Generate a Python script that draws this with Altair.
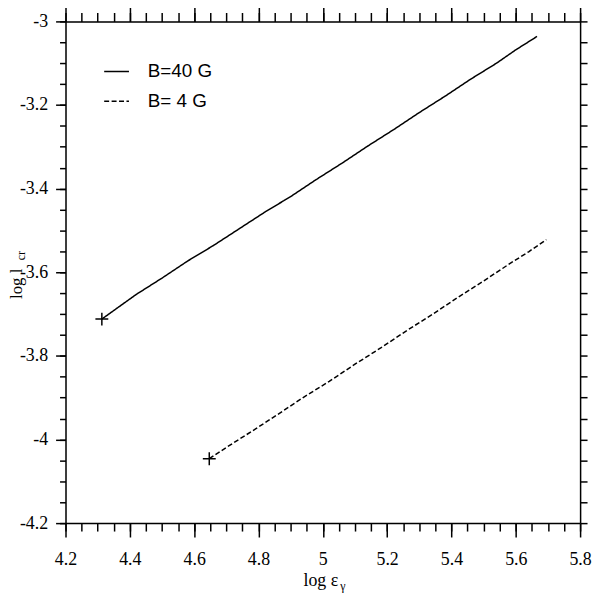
import altair as alt
import pandas as pd

# ---- data ----
series_names = ["B=40 G", "B= 4 G"]

x40 = [4.313, 4.36, 4.42, 4.50, 4.58, 4.66, 4.74, 4.82, 4.90, 4.98, 5.06,
       5.14, 5.22, 5.30, 5.38, 5.46, 5.54, 5.60, 5.666]
y40 = [-3.712, -3.686, -3.653, -3.614, -3.573, -3.536, -3.496, -3.456, -3.419,
       -3.378, -3.339, -3.298, -3.259, -3.218, -3.179, -3.138, -3.100, -3.068, -3.036]

x4 = [4.647, 4.70, 4.78, 4.86, 4.94, 5.02, 5.10, 5.18, 5.26, 5.34, 5.42,
      5.50, 5.58, 5.64, 5.695]
y4 = [-4.046, -4.019, -3.980, -3.940, -3.899, -3.861, -3.820, -3.781, -3.740,
      -3.701, -3.660, -3.621, -3.580, -3.551, -3.522]

x_major = [4.2, 4.4, 4.6, 4.8, 5.0, 5.2, 5.4, 5.6, 5.8]
y_major = [-4.2, -4.0, -3.8, -3.6, -3.4, -3.2, -3.0]
x_minor = [round(4.2 + 0.05 * i, 2) for i in range(33)]
y_minor = [round(-4.2 + 0.05 * i, 2) for i in range(25)]

# ---- tables ----
rows = []
for i, (a, b) in enumerate(zip(x40, y40)):
    rows.append({"x": a, "y": b, "series": series_names[0], "order": i})
for i, (a, b) in enumerate(zip(x4, y4)):
    rows.append({"x": a, "y": b, "series": series_names[1], "order": i})
df = pd.DataFrame(rows)
starts = pd.DataFrame({"x": [x40[0], x4[0]], "y": [y40[0], y4[0]]})
one = pd.DataFrame({"a": [0]})

W, H = 519, 506
SERIF = "Liberation Serif"
SANS = "Liberation Sans"

xs = alt.Scale(domain=[4.2, 5.8], nice=False, zero=False)
ys = alt.Scale(domain=[-4.2, -3.0], nice=False, zero=False)


def ax(orient, values, tick, labels=False, domain=False, pad=8):
    return alt.Axis(
        orient=orient, values=values, tickSize=tick, tickWidth=1.5,
        tickColor="black", labels=labels, domain=domain, domainColor="black",
        domainWidth=1.5, grid=False, title=None, labelFont=SERIF,
        labelFontSize=18, labelColor="black", labelPadding=pad,
        labelExpr="'' + datum.value", labelFlush=False, labelOverlap=False,
        labelBound=False,
    )


lines = alt.Chart(df).mark_line(strokeWidth=1.5, color="black").encode(
    x=alt.X("x:Q", scale=xs, axis=ax("bottom", x_major, 14, True, True, 14)),
    y=alt.Y("y:Q", scale=ys, axis=ax("left", y_major, 10, True, True, 8)),
    strokeDash=alt.StrokeDash(
        "series:N",
        scale=alt.Scale(domain=series_names, range=[[1, 0], [5, 2.5]]),
        legend=alt.Legend(
            title=None, orient="none", legendX=38, legendY=37,
            symbolType="stroke", symbolSize=625, symbolStrokeWidth=1.5,
            symbolStrokeColor="black", labelFont=SANS, labelFontSize=19,
            labelColor="black", labelOffset=18, rowPadding=6, padding=0,
        ),
    ),
    order="order:Q",
)

plus = alt.Chart(starts).mark_point(
    shape="M-1,0L1,0M0,-1L0,1", size=169, filled=False, stroke="black",
    strokeWidth=1.5, opacity=1,
).encode(
    x=alt.X("x:Q", scale=xs, axis=ax("bottom", x_minor, 8)),
    y=alt.Y("y:Q", scale=ys, axis=ax("left", y_minor, 6)),
)

frame_a = alt.Chart(starts).mark_point(opacity=0).encode(
    x=alt.X("x:Q", scale=xs, axis=ax("top", x_major, 15, False, True)),
    y=alt.Y("y:Q", scale=ys, axis=ax("right", y_minor, 7, False, True)),
)

frame_b = alt.Chart(starts).mark_point(opacity=0).encode(
    x=alt.X("x:Q", scale=xs, axis=ax("top", x_minor, 9)),
    y=alt.Y("y:Q", scale=ys, axis=None),
)

# axis titles as text (with subscripts)
xt_main = alt.Chart(one).mark_text(
    text="log ε", align="left", baseline="alphabetic", font=SERIF,
    fontSize=18, color="black",
).encode(x=alt.value(240), y=alt.value(569))
xt_sub = alt.Chart(one).mark_text(
    text="γ", align="left", baseline="alphabetic", font=SERIF,
    fontSize=12, color="black",
).encode(x=alt.value(277), y=alt.value(573))

yt_main = alt.Chart(one).mark_text(
    text="log", align="left", baseline="alphabetic", font=SERIF,
    fontSize=17, color="black", angle=270,
).encode(x=alt.value(-44), y=alt.value(280))
yt_l = alt.Chart(one).mark_text(
    text="l", align="left", baseline="alphabetic", font=SERIF,
    fontSize=17, color="black", angle=270,
).encode(x=alt.value(-44), y=alt.value(254))
yt_sub = alt.Chart(one).mark_text(
    text="cr", align="left", baseline="alphabetic", font=SERIF,
    fontSize=12, color="black", angle=270,
).encode(x=alt.value(-41), y=alt.value(241))

chart = alt.layer(
    lines, plus, frame_a, frame_b, xt_main, xt_sub, yt_main, yt_l, yt_sub
).resolve_axis(
    x="independent", y="independent"
).properties(
    width=W, height=H,
    autosize=alt.AutoSizeParams(type="none"),
    padding={"left": 58, "top": 11, "right": 12, "bottom": 72},
).configure_view(stroke=None).configure_axis(
    labelFont=SERIF, labelFontSize=18, labelColor="black"
).configure(background="white")

chart.save("out.html", embed_options={"renderer": "svg", "actions": False})
